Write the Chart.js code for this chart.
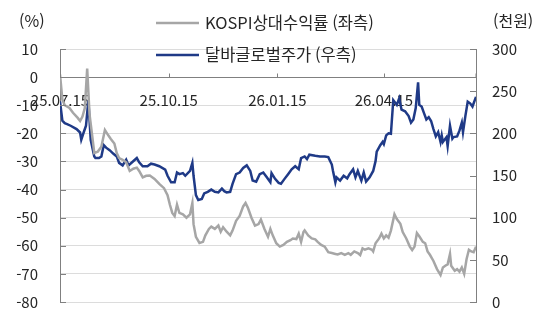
<!DOCTYPE html>
<html lang="ko">
<head>
<meta charset="utf-8">
<script src="https://cdn.jsdelivr.net/npm/chart.js@4"></script>
<style>
  html, body { margin: 0; padding: 0; background: #ffffff; }
  #wrap { position: relative; width: 543px; height: 333px; }
</style>
</head>
<body>
<div id="wrap"><canvas id="chart" width="543" height="333"></canvas></div>
<script>
// ===========================
// DATA
// ===========================

const tickDays = [0, 92, 184, 274];
const tickLabels = ["25.07.15", "25.10.15", "26.01.15", "26.04.15"];

const legendLabels = ["KOSPI상대수익률 (좌측)", "달바글로벌주가 (우측)"];

// KOSPI relative return (%), left axis; x = days since 25.07.15
const kospiDays = [0, 2, 4, 8, 11, 15, 17, 19, 21, 23, 25, 27, 29, 32, 35, 38, 41, 43, 46, 48,
  50, 53, 56, 59, 62, 65, 67, 70, 73, 76, 80, 84, 88, 91, 93, 95, 97, 99, 101, 104,
  107, 110, 112, 113, 115, 118, 121, 123, 126, 128, 131, 134, 136, 138, 141, 144, 146, 149, 152, 155,
  157, 159, 162, 165, 168, 170, 173, 176, 178, 180, 183, 186, 189, 192, 195, 197, 200, 202, 204, 206,
  207, 210, 213, 216, 218, 221, 224, 227, 230, 233, 235, 238, 241, 244, 246, 249, 252, 254, 256, 258,
  261, 264, 265, 267, 270, 272, 274, 276, 278, 280, 283, 285, 288, 290, 293, 296, 298, 300, 302, 304,
  307, 309, 311, 313, 316, 319, 322, 324, 326, 328, 330, 331, 334, 336, 338, 340, 342, 344, 346, 348,
  350, 352];
const kospiValues = [1, -8, -10, -11, -12.7, -14.5, -15.6, -14, -11, 3, -13.3, -20, -27, -26.5, -24.8, -18.8, -20.8, -22, -23.6, -27,
  -28.8, -29.4, -30.3, -33.4, -32.6, -32.2, -33.4, -35.7, -35.1, -35, -36.2, -38, -39.5, -42, -45.4, -48.3, -49.4, -45.4, -48.3, -48.8,
  -50, -48.8, -44.8, -52.3, -56.8, -59, -58.6, -56.3, -54, -53.2, -54, -52.8, -55, -53.4, -55, -56.3, -54.6, -51.1, -49.4, -46,
  -44.8, -46.5, -50, -52.8, -52.3, -50.7, -54, -56.8, -54, -56.3, -59.1, -60.3, -59.7, -58.6, -58, -57.4, -57.6, -55.7, -58.6, -55.1,
  -54.5, -56.3, -57.4, -57.7, -58.6, -59.7, -60.3, -62.3, -62.6, -62.9, -63.1, -62.6, -63.2, -62.6, -63.2, -62, -62.6, -63.3, -60.9, -61.4,
  -60.9, -61.4, -62, -59.1, -57.4, -55.7, -57.4, -56.3, -57.1, -54.6, -48.8, -50.5, -52.2, -55.1, -57.4, -60.3, -61.5, -60.3, -55.5, -56.6,
  -58.6, -59.1, -62, -63.2, -65.4, -68.3, -70.4, -67.7, -67.1, -66.6, -62.9, -67.1, -68.9, -68.3, -69.2, -67.7, -70, -64.8, -61.4, -62,
  -62.3, -60.3];

// Dalba Global share price (thousand won), right axis
const dalbaDays = [0, 2, 4, 6, 9, 14, 17, 18, 20, 22, 24, 26, 29, 30, 33, 35, 37, 39, 42, 45,
  48, 50, 53, 56, 58, 61, 65, 67, 70, 74, 77, 80, 84, 89, 91, 94, 97, 99, 101, 104,
  106, 110, 112, 113, 115, 117, 120, 122, 125, 128, 131, 134, 137, 139, 141, 144, 146, 149, 152, 155,
  158, 161, 163, 166, 169, 172, 175, 178, 179, 182, 185, 187, 190, 193, 196, 199, 202, 204, 207, 209,
  211, 216, 220, 224, 227, 230, 231, 233, 234, 237, 240, 243, 245, 248, 250, 252, 255, 257, 259, 262,
  265, 267, 268, 271, 273, 274, 276, 278, 280, 282, 283, 285, 287, 289, 292, 295, 297, 299, 301, 303,
  304, 306, 308, 310, 312, 314, 316, 318, 320, 322, 323, 324, 327, 328, 330, 332, 333, 336, 338, 340,
  341, 343, 345, 347, 349, 352];
const dalbaValues = [238, 215, 212, 211, 209, 205, 201, 192.5, 201, 209, 239, 192, 172.6, 170.7, 170.7, 172.6, 186, 183, 180, 176,
  172.6, 165, 162, 168.8, 162, 165.7, 170.7, 165.7, 161, 161, 164, 163, 161, 157, 149.7, 142, 142, 153.5, 151.6, 152.8,
  149.7, 155.4, 165, 149.7, 126.8, 121, 122.2, 128.7, 130.6, 133.3, 130.6, 130, 134.5, 131.4, 130, 130.6, 140, 151.6, 153.5, 159,
  162, 155.4, 144, 142.7, 151.6, 153.5, 147.8, 142, 152.8, 146, 141.3, 140.2, 146, 151.6, 157.4, 161, 157.4, 170.7, 172.6, 169.5,
  174.6, 173.4, 172.6, 172.6, 171.8, 163, 155.4, 142, 147.8, 144, 149.7, 146.6, 151.6, 157.4, 147.8, 155.4, 144, 153.5, 142.7, 147.8,
  155.4, 167, 178.4, 186, 189.8, 187.2, 197.5, 200, 199.4, 239.4, 237.6, 233.7, 241.4, 228, 226.1, 220.4, 212.7, 216.5, 229.9, 260.5,
  233.7, 231.8, 224, 216.5, 219.2, 214.6, 205, 196.3, 201.3, 189.8, 197.5, 189.8, 195.5, 184.9, 209, 193.6, 195.5, 196.3, 203.2, 212.7,
  201.3, 220.4, 237.6, 235.6, 231.8, 243.3];

// ===========================
// STYLE
// ===========================

const FONT = "'Noto Sans CJK KR', 'Noto Sans', sans-serif";
const GRAY = "#a6a6a6";
const NAVY = "#1f3a87";
const AXIS = "#808080";
const TEXT = "#262626";

function toPoints(days, values) {
  return days.map((d, i) => ({ x: d, y: values[i] }));
}

// ===========================
// EXTRA DRAWING: inward tick marks, legend, unit titles
// ===========================

const decorPlugin = {
  id: "decor",
  afterDraw(chart) {
    const ctx = chart.ctx;
    const area = chart.chartArea;
    const xs = chart.scales.x;
    const yl = chart.scales.y;
    const yr = chart.scales.y1;
    ctx.save();

    // inward tick marks
    ctx.strokeStyle = AXIS;
    ctx.lineWidth = 1;
    ctx.beginPath();
    yl.ticks.forEach((t) => {
      const py = Math.round(yl.getPixelForValue(t.value)) + 0.5;
      ctx.moveTo(area.left, py);
      ctx.lineTo(area.left + 6, py);
    });
    yr.ticks.forEach((t) => {
      const py = Math.round(yr.getPixelForValue(t.value)) + 0.5;
      ctx.moveTo(area.right, py);
      ctx.lineTo(area.right - 6, py);
    });
    const x0 = Math.round(yl.getPixelForValue(0)) + 0.5;
    tickDays.forEach((d) => {
      const px = Math.round(xs.getPixelForValue(d)) + 0.5;
      ctx.moveTo(px, x0);
      ctx.lineTo(px, x0 - 4);
    });
    ctx.moveTo(area.right, x0);
    ctx.lineTo(area.right, x0 - 4);
    ctx.stroke();

    // unit titles
    ctx.fillStyle = TEXT;
    ctx.font = "16px " + FONT;
    ctx.textBaseline = "middle";
    ctx.textAlign = "left";
    ctx.fillText("(%)", 19, 21);
    ctx.fillText("(천원)", 493, 21);

    // legend
    const colors = [GRAY, NAVY];
    const rowsY = [23, 55];
    ctx.font = "16.5px " + FONT;
    legendLabels.forEach((label, i) => {
      ctx.strokeStyle = colors[i];
      ctx.lineWidth = 2.5;
      ctx.beginPath();
      ctx.moveTo(156, rowsY[i]);
      ctx.lineTo(199, rowsY[i]);
      ctx.stroke();
      ctx.fillStyle = TEXT;
      ctx.fillText(label, 205, rowsY[i]);
    });
    ctx.restore();
  },
};

// ===========================
// CHART
// ===========================

const ctx = document.getElementById("chart").getContext("2d");

new Chart(ctx, {
  type: "line",
  data: {
    datasets: [
      {
        label: legendLabels[0],
        data: toPoints(kospiDays, kospiValues),
        yAxisID: "y",
        borderColor: GRAY,
        borderWidth: 2.5,
        pointRadius: 0,
        tension: 0,
      },
      {
        label: legendLabels[1],
        data: toPoints(dalbaDays, dalbaValues),
        yAxisID: "y1",
        borderColor: NAVY,
        borderWidth: 2.5,
        pointRadius: 0,
        tension: 0,
      },
    ],
  },
  options: {
    responsive: false,
    animation: false,
    layout: { padding: { top: 49, bottom: 22, left: 0, right: 0 } },
    plugins: {
      legend: { display: false },
      tooltip: { enabled: false },
    },
    scales: {
      x: {
        type: "linear",
        position: { y: 0 },
        min: 0,
        max: 352,
        afterBuildTicks: (scale) => {
          scale.ticks = tickDays.map((v) => ({ value: v }));
        },
        ticks: {
          autoSkip: false,
          maxRotation: 0,
          padding: 14,
          color: TEXT,
          font: { family: FONT, size: 15 },
          callback: (v) => tickLabels[tickDays.indexOf(v)],
        },
        grid: { display: false, drawTicks: false },
        border: { display: true, color: AXIS, width: 1 },
      },
      y: {
        position: "left",
        min: -80,
        max: 10,
        afterFit: (scale) => { scale.width = 60; },
        ticks: {
          stepSize: 10,
          padding: 22,
          color: TEXT,
          font: { family: FONT, size: 15 },
        },
        grid: { color: "#dcdcdc", drawTicks: false },
        border: { display: true, color: AXIS, width: 1 },
      },
      y1: {
        position: "right",
        min: 0,
        max: 300,
        afterFit: (scale) => { scale.width = 67; },
        ticks: {
          stepSize: 50,
          padding: 16,
          color: TEXT,
          font: { family: FONT, size: 15 },
        },
        grid: { drawOnChartArea: false, drawTicks: false },
        border: { display: true, color: AXIS, width: 1 },
      },
    },
  },
  plugins: [decorPlugin],
});
</script>
</body>
</html>
